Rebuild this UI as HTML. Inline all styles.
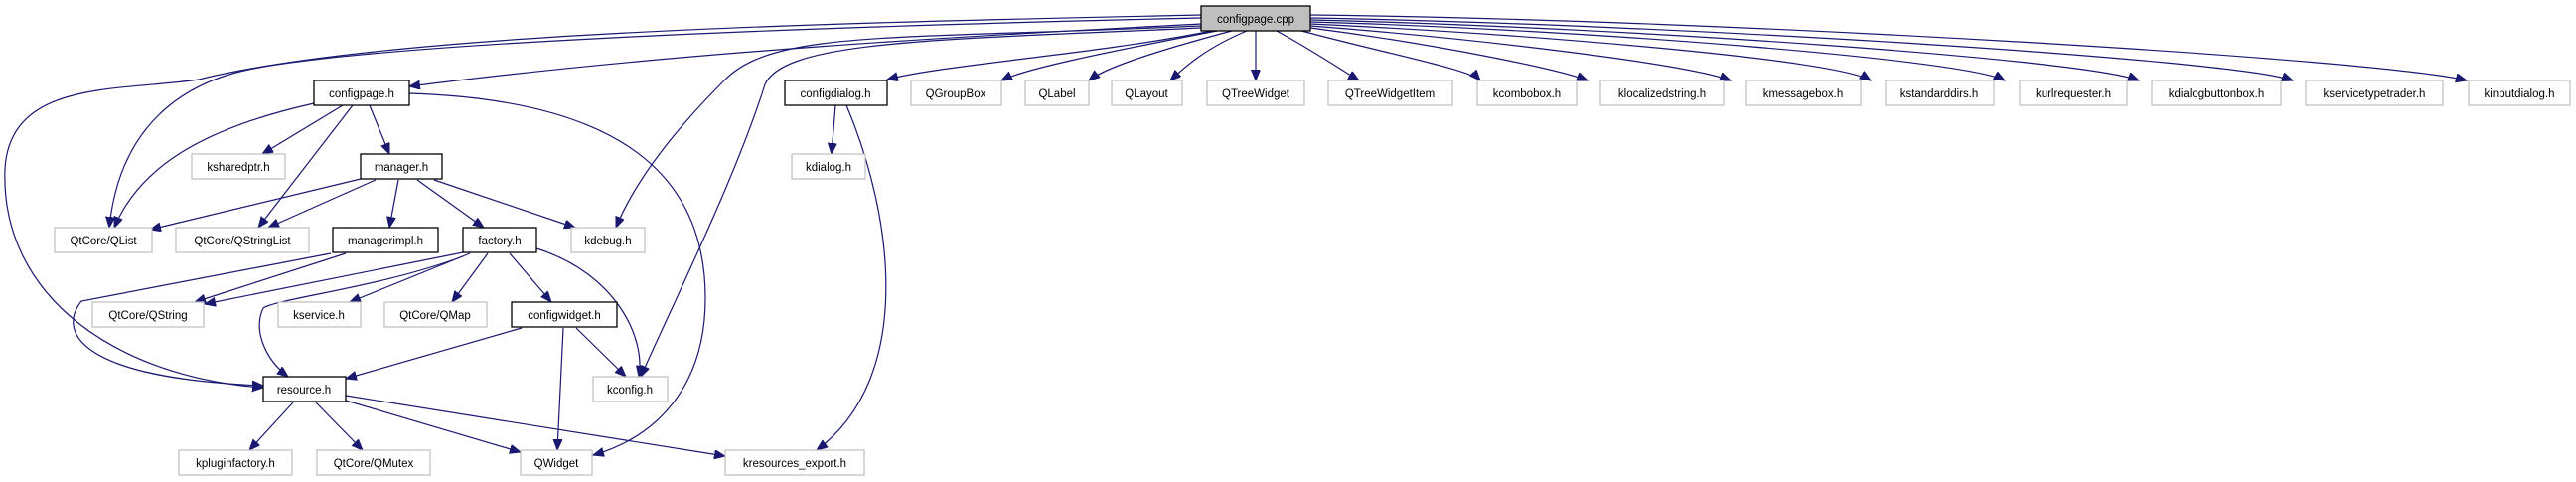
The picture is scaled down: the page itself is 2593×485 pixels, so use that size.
<!DOCTYPE html>
<html><head><meta charset="utf-8"><style>
html,body{margin:0;padding:0;background:#fff;}
svg{display:block;}
text{font-family:"Liberation Sans",sans-serif;font-size:11.5px;fill:#000;text-anchor:middle;}
.e{fill:none;stroke:#191970;stroke-width:1.2;}
.g{fill:#fff;stroke:#bfbfbf;stroke-width:1.2;}
.b{fill:#fff;stroke:#000;stroke-width:1.3;}
</style></head><body>
<svg width="2593" height="485" viewBox="0 0 2593 485" xmlns="http://www.w3.org/2000/svg">
<defs>
<marker id="a" markerUnits="userSpaceOnUse" markerWidth="12" markerHeight="10" refX="11" refY="4.5" orient="auto">
<path d="M0,0 L11,4.5 L0,9 Z" fill="#191970" stroke="#191970"/>
</marker>
</defs>
<g marker-end="url(#a)">
<!-- from configpage.cpp -->
<path class="e" d="M1209,24 C1000,35 700,50 412,87"/>
<path class="e" d="M1209,18 C900,25 400,40 250,70 C180,85 120,130 110,229"/>
<path class="e" d="M1209,15 C900,22 400,30 200,80 C120,92 10,80 5,170 C0,300 120,380 265,390"/>
<path class="e" d="M1209,26 C900,40 780,30 730,80 C680,130 640,180 620,229"/>
<path class="e" d="M1209,28 C950,40 790,40 770,85 C740,180 680,300 645,379"/>
<path class="e" d="M1220,31 C1100,55 950,65 893,80"/>
<path class="e" d="M1225,31 C1100,55 1030,70 1008,81"/>
<path class="e" d="M1240,31 C1150,55 1110,70 1096,81"/>
<path class="e" d="M1255,31 C1210,50 1190,70 1178,81"/>
<path class="e" d="M1264,31 L1264,81"/>
<path class="e" d="M1285,31 C1320,50 1350,70 1368,81"/>
<path class="e" d="M1310,31 C1400,55 1480,70 1490,81"/>
<path class="e" d="M1319,28 C1450,45 1570,70 1598,81"/>
<path class="e" d="M1319,26 C1500,40 1700,65 1742,81"/>
<path class="e" d="M1319,24 C1550,35 1850,60 1883,81"/>
<path class="e" d="M1319,22 C1600,30 1980,60 2018,81"/>
<path class="e" d="M1319,20 C1650,28 2100,60 2153,81"/>
<path class="e" d="M1319,18 C1700,25 2250,60 2308,81"/>
<path class="e" d="M1319,15 C1750,20 2400,60 2483,81"/>
<!-- configpage.h -->
<path class="e" d="M316,104 C200,130 140,170 115,229"/>
<path class="e" d="M345,106 L264,155"/>
<path class="e" d="M355,106 L260,229"/>
<path class="e" d="M372,106 L392,155"/>
<path class="e" d="M412,94 C600,100 710,160 710,300 C710,390 660,440 597,458"/>
<!-- manager.h -->
<path class="e" d="M363,180 L151,231"/>
<path class="e" d="M378,181 L270,229"/>
<path class="e" d="M401,181 L392,229"/>
<path class="e" d="M420,181 L487,229"/>
<path class="e" d="M437,181 L579,229"/>
<!-- managerimpl.h -->
<path class="e" d="M348,255 L196,304"/>
<path class="e" d="M333,255 L82,303 C60,330 70,380 265,388"/>
<!-- factory.h -->
<path class="e" d="M466,254 L206,306"/>
<path class="e" d="M466,258 C380,290 280,300 265,310 C255,330 265,360 290,379"/>
<path class="e" d="M473,255 L352,304"/>
<path class="e" d="M491,255 L455,304"/>
<path class="e" d="M513,255 L555,304"/>
<path class="e" d="M540,250 C620,275 650,340 643,379"/>
<!-- configwidget.h -->
<path class="e" d="M525,330 L348,381"/>
<path class="e" d="M567,330 L561,453"/>
<path class="e" d="M580,330 L630,379"/>
<!-- resource.h -->
<path class="e" d="M295,405 L251,453"/>
<path class="e" d="M318,405 L365,453"/>
<path class="e" d="M348,403 L524,455"/>
<path class="e" d="M348,398 L730,459"/>
<!-- configdialog.h -->
<path class="e" d="M841,106 L837,155"/>
<path class="e" d="M852,106 C900,220 920,380 822,453"/>
</g>
<!-- nodes -->
<rect x="1209" y="6" width="110" height="25" fill="#bfbfbf" stroke="#000" stroke-width="1.3"/><text x="1264" y="23">configpage.cpp</text>
<rect class="b" x="316" y="81" width="96" height="25"/><text x="364" y="98">configpage.h</text>
<rect class="b" x="790" y="81" width="103" height="25"/><text x="841" y="98">configdialog.h</text>
<rect class="g" x="917" y="81" width="91" height="25"/><text x="962" y="98">QGroupBox</text>
<rect class="g" x="1032" y="81" width="64" height="25"/><text x="1064" y="98">QLabel</text>
<rect class="g" x="1119" y="81" width="71" height="25"/><text x="1154" y="98">QLayout</text>
<rect class="g" x="1215" y="81" width="98" height="25"/><text x="1264" y="98">QTreeWidget</text>
<rect class="g" x="1337" y="81" width="125" height="25"/><text x="1399" y="98">QTreeWidgetItem</text>
<rect class="g" x="1487" y="81" width="100" height="25"/><text x="1537" y="98">kcombobox.h</text>
<rect class="g" x="1611" y="81" width="124" height="25"/><text x="1673" y="98">klocalizedstring.h</text>
<rect class="g" x="1758" y="81" width="115" height="25"/><text x="1815" y="98">kmessagebox.h</text>
<rect class="g" x="1898" y="81" width="109" height="25"/><text x="1952" y="98">kstandarddirs.h</text>
<rect class="g" x="2033" y="81" width="108" height="25"/><text x="2087" y="98">kurlrequester.h</text>
<rect class="g" x="2166" y="81" width="130" height="25"/><text x="2231" y="98">kdialogbuttonbox.h</text>
<rect class="g" x="2321" y="81" width="138" height="25"/><text x="2390" y="98">kservicetypetrader.h</text>
<rect class="g" x="2485" y="81" width="102" height="25"/><text x="2536" y="98">kinputdialog.h</text>
<rect class="g" x="193" y="155" width="94" height="25"/><text x="240" y="172">ksharedptr.h</text>
<rect class="b" x="363" y="155" width="82" height="25"/><text x="404" y="172">manager.h</text>
<rect class="g" x="797" y="155" width="74" height="25"/><text x="834" y="172">kdialog.h</text>
<rect class="g" x="55" y="229" width="98" height="25"/><text x="104" y="246">QtCore/QList</text>
<rect class="g" x="177" y="229" width="134" height="25"/><text x="244" y="246">QtCore/QStringList</text>
<rect class="b" x="335" y="229" width="106" height="25"/><text x="388" y="246">managerimpl.h</text>
<rect class="b" x="466" y="229" width="74" height="25"/><text x="503" y="246">factory.h</text>
<rect class="g" x="575" y="229" width="74" height="25"/><text x="612" y="246">kdebug.h</text>
<rect class="g" x="93" y="304" width="112" height="25"/><text x="149" y="321">QtCore/QString</text>
<rect class="g" x="280" y="304" width="83" height="25"/><text x="321" y="321">kservice.h</text>
<rect class="g" x="387" y="304" width="103" height="25"/><text x="438" y="321">QtCore/QMap</text>
<rect class="b" x="515" y="304" width="106" height="25"/><text x="568" y="321">configwidget.h</text>
<rect class="b" x="265" y="379" width="83" height="25"/><text x="306" y="396">resource.h</text>
<rect class="g" x="597" y="379" width="75" height="25"/><text x="634" y="396">kconfig.h</text>
<rect class="g" x="180" y="453" width="114" height="25"/><text x="237" y="470">kpluginfactory.h</text>
<rect class="g" x="319" y="453" width="114" height="25"/><text x="376" y="470">QtCore/QMutex</text>
<rect class="g" x="524" y="453" width="72" height="25"/><text x="560" y="470">QWidget</text>
<rect class="g" x="730" y="453" width="140" height="25"/><text x="800" y="470">kresources_export.h</text>
</svg>
</body></html>
